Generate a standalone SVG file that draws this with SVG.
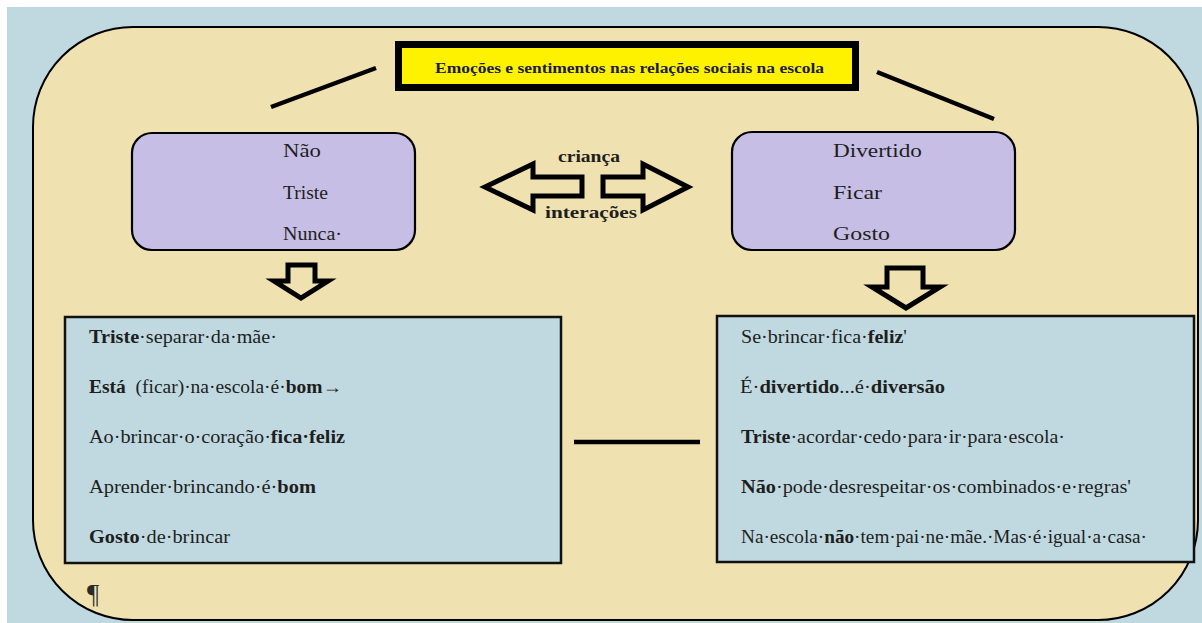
<svg xmlns="http://www.w3.org/2000/svg" width="1202" height="623" viewBox="0 0 1202 623">
  <style>
    .panel { fill: #EFE2B0; stroke: #000; stroke-width: 2; }
    .title-box { fill: #FFF200; stroke: #000; stroke-width: 7; }
    .title { font-family: "Liberation Serif", "Times New Roman", serif; font-size: 15px; font-weight: bold; fill: #1c1c4e; }
    .pill { fill: #C6BEE4; stroke: #000; stroke-width: 2.2; }
    .card { fill: #C0D9E0; stroke: #111; stroke-width: 2.5; }
    .txt { font-family: "Liberation Serif", "Times New Roman", serif; font-size: 18px; fill: #1e1e1e; }
    .lbl { font-family: "Liberation Serif", "Times New Roman", serif; font-size: 17px; font-weight: bold; fill: #1e1e1e; }
    .mark { font-family: "Liberation Serif", "Times New Roman", serif; font-size: 27px; fill: #2a2a2a; }
    .b { font-weight: bold; }
    .line { stroke: #000; stroke-width: 4.5; fill: none; }
    .arrow { fill: none; stroke: #000; stroke-width: 5; stroke-linejoin: miter; }
  </style>

  <!-- page background -->
  <rect x="0" y="0" width="1202" height="623" fill="#FFFFFF"/>
  <rect x="7" y="7" width="1195" height="616" fill="#C0D9E0"/>

  <!-- rounded backdrop panel -->
  <rect id="panel" class="panel" x="33" y="27" width="1165" height="593" rx="100" ry="100"/>

  <!-- title -->
  <g id="title">
    <rect class="title-box" x="398.5" y="44.5" width="457" height="43"/>
    <text class="title" x="435" y="73" textLength="389" lengthAdjust="spacingAndGlyphs">Emoções e sentimentos nas relações sociais na escola</text>
  </g>

  <!-- connectors -->
  <g id="connectors">
    <line class="line" x1="271" y1="107" x2="376" y2="68"/>
    <line class="line" x1="877" y1="72" x2="994" y2="119"/>
    <line class="line" x1="574" y1="442" x2="700" y2="442"/>
    <!-- block arrows between the word boxes -->
    <polygon class="arrow" points="485,187 533,164 533,177 582,177 582,196 533,196 533,210"/>
    <polygon class="arrow" points="688,187 643,164 643,177 603,177 603,196 643,196 643,210"/>
    <!-- block arrows down to the quote boxes -->
    <polygon class="arrow" points="288,265 315,265 315,281 328,281 301,298 274,281 288,281"/>
    <polygon class="arrow" points="887,268 923,268 923,287 940,287 906,308 872,287 887,287"/>
  </g>

  <!-- arrow labels -->
  <g id="labels">
    <text class="lbl" x="558" y="162" textLength="62" lengthAdjust="spacingAndGlyphs">criança</text>
    <text class="lbl" x="545" y="218" textLength="92" lengthAdjust="spacingAndGlyphs">interações</text>
  </g>

  <!-- negative words -->
  <g id="words-left">
    <rect class="pill" x="132" y="133" width="283" height="117" rx="20" ry="20"/>
    <text class="txt" x="283" y="157" textLength="38" lengthAdjust="spacingAndGlyphs">Não</text>
    <text class="txt" x="283" y="199" textLength="45" lengthAdjust="spacingAndGlyphs">Triste</text>
    <text class="txt" x="283" y="240" textLength="59" lengthAdjust="spacingAndGlyphs">Nunca·</text>
  </g>

  <!-- positive words -->
  <g id="words-right">
    <rect class="pill" x="732" y="132" width="283" height="118" rx="20" ry="20"/>
    <text class="txt" x="833" y="157" textLength="89" lengthAdjust="spacingAndGlyphs">Divertido</text>
    <text class="txt" x="833" y="199" textLength="49" lengthAdjust="spacingAndGlyphs">Ficar</text>
    <text class="txt" x="833" y="240" textLength="57" lengthAdjust="spacingAndGlyphs">Gosto</text>
  </g>

  <!-- quotes, left -->
  <g id="quotes-left">
    <rect class="card" x="65" y="317" width="496" height="246"/>
    <text class="txt" x="89" y="343" textLength="188" lengthAdjust="spacingAndGlyphs"><tspan class="b">Triste</tspan>·separar·da·mãe·</text>
    <text class="txt" x="89" y="393" textLength="253" lengthAdjust="spacingAndGlyphs" xml:space="preserve"><tspan class="b">Está</tspan>  (ficar)·na·escola·é·<tspan class="b">bom→</tspan></text>
    <text class="txt" x="89" y="443" textLength="256" lengthAdjust="spacingAndGlyphs">Ao·brincar·o·coração·<tspan class="b">fica·feliz</tspan></text>
    <text class="txt" x="89" y="493" textLength="227" lengthAdjust="spacingAndGlyphs">Aprender·brincando·é·<tspan class="b">bom</tspan></text>
    <text class="txt" x="89" y="543" textLength="141" lengthAdjust="spacingAndGlyphs"><tspan class="b">Gosto</tspan>·de·brincar</text>
  </g>

  <!-- quotes, right -->
  <g id="quotes-right">
    <rect class="card" x="717" y="316" width="477" height="246"/>
    <text class="txt" x="741" y="343" textLength="166" lengthAdjust="spacingAndGlyphs">Se·brincar·fica·<tspan class="b">feliz</tspan>'</text>
    <text class="txt" x="740" y="393" textLength="205" lengthAdjust="spacingAndGlyphs">É·<tspan class="b">divertido</tspan>...é·<tspan class="b">diversão</tspan></text>
    <text class="txt" x="741" y="443" textLength="324" lengthAdjust="spacingAndGlyphs"><tspan class="b">Triste</tspan>·acordar·cedo·para·ir·para·escola·</text>
    <text class="txt" x="741" y="493" textLength="390" lengthAdjust="spacingAndGlyphs"><tspan class="b">Não</tspan>·pode·desrespeitar·os·combinados·e·regras'</text>
    <text class="txt" x="741" y="543" textLength="406" lengthAdjust="spacingAndGlyphs">Na·escola·<tspan class="b">não</tspan>·tem·pai·ne·mãe.·Mas·é·igual·a·casa·</text>
  </g>

  <!-- paragraph mark -->
  <text class="mark" x="87" y="603">¶</text>
</svg>
